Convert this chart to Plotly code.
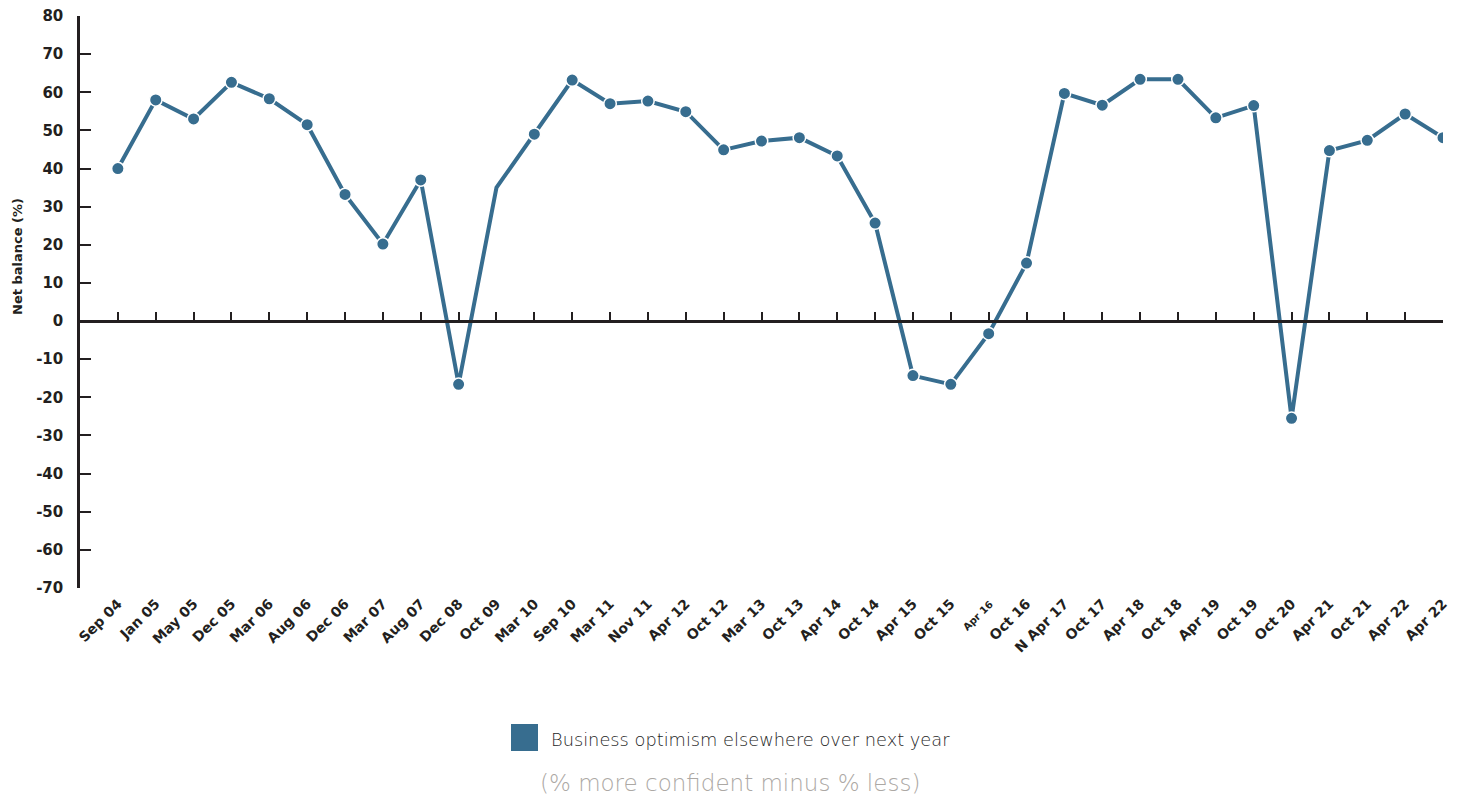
import plotly.graph_objects as go

categories = ["Sep 04", "Jan 05", "May 05", "Dec 05", "Mar 06", "Aug 06", "Dec 06", "Mar 07",
              "Aug 07", "Dec 08", "Oct 09", "Mar 10", "Sep 10", "Mar 11", "Nov 11", "Apr 12",
              "Oct 12", "Mar 13", "Oct 13", "Apr 14", "Oct 14", "Apr 15", "Oct 15", "Apr 16",
              "Oct 16", "N Apr 17", "Oct 17", "Apr 18", "Oct 18", "Apr 19", "Oct 19", "Oct 20",
              "Apr 21", "Oct 21", "Apr 22", "Apr 22"]
values = [40, 58, 53, 62.6, 58.3, 51.5, 33.2, 20.2,
          37, -16.6, 35, 49, 63.2, 57, 57.7, 54.9,
          44.9, 47.2, 48.1, 43.3, 25.7, -14.3, -16.6, -3.3,
          15.2, 59.7, 56.6, 63.4, 63.4, 53.3, 56.5, -25.5,
          44.7, 47.4, 54.3, 48.1]
no_marker = ["Oct 09"]
y_ticks = list(range(-70, 81, 10))
y_ticktext = [str(v) for v in y_ticks]

x = list(range(len(categories)))
LINE_C = "#376d8f"
DARK = "#231f20"
TICK_FONT = "DejaVu Sans"
TEXT_FONT = "DejaVu Sans"

sizes = [0 if c in no_marker else 12.5 for c in categories]
ticktext = [f"<span style='font-size:10px'>{c}</span>" if c == "Apr 16" else c for c in categories]

fig = go.Figure()
fig.add_trace(go.Scatter(
    x=x, y=values, mode="lines+markers",
    line=dict(color=LINE_C, width=4),
    marker=dict(size=sizes, color=LINE_C, opacity=1, line=dict(color="white", width=1.5)),
    showlegend=False, xaxis="x", yaxis="y",
))
# invisible trace to activate the zero-line axis
fig.add_trace(go.Scatter(x=[x[0]], y=[values[0]], xaxis="x2", yaxis="y", mode="markers",
                         marker=dict(opacity=0), showlegend=False, hoverinfo="skip"))

fig.update_layout(
    width=1459, height=799,
    margin=dict(l=80, r=16, t=16, b=211, autoexpand=False),
    plot_bgcolor="white", paper_bgcolor="white",
    font=dict(family=TICK_FONT, color=DARK),
    xaxis=dict(
        range=[-1, 35], tickmode="array", tickvals=x, ticktext=ticktext,
        tickangle=-45, showline=False, showgrid=False, zeroline=False, ticks="",
        tickfont=dict(family=TICK_FONT, size=14, color=DARK, weight=700),
        ticklabelstandoff=4, automargin=False,
    ),
    xaxis2=dict(
        overlaying="x", matches="x", anchor="free", position=70 / 150, side="bottom",
        tickmode="array", tickvals=x, showticklabels=False,
        showline=True, linecolor=DARK, linewidth=2.5,
        ticks="inside", ticklen=8, tickwidth=2, tickcolor=DARK,
        showgrid=False, zeroline=False, automargin=False,
    ),
    yaxis=dict(
        range=[-70, 80], tickmode="array", tickvals=y_ticks, ticktext=y_ticktext,
        showline=True, linecolor=DARK, linewidth=2.5,
        ticks="inside", ticklen=11, tickwidth=2, tickcolor=DARK,
        showgrid=False, zeroline=False,
        tickfont=dict(family=TICK_FONT, size=15, color=DARK, weight=700),
        ticklabelstandoff=11, automargin=False,
    ),
    showlegend=False,
)

fig.add_annotation(
    text="Net balance (%)", textangle=-90, xref="paper", yref="paper",
    x=(17 - 80) / 1363, y=(588 - 257) / 572, xanchor="center", yanchor="middle",
    showarrow=False,
    font=dict(family=TICK_FONT, size=13, color=DARK, weight=700),
)
# legend
fig.add_shape(type="rect", xref="paper", yref="paper",
              x0=(511 - 80) / 1363, x1=(538 - 80) / 1363,
              y0=(588 - 751) / 572, y1=(588 - 724) / 572,
              fillcolor=LINE_C, line=dict(width=0))
fig.add_annotation(
    text="Business optimism elsewhere over next year", xref="paper", yref="paper",
    x=(549 - 80) / 1363, y=(588 - 739) / 572, xanchor="left", yanchor="middle", showarrow=False,
    font=dict(family=TEXT_FONT, size=17.8, color="#262626", weight=200),
)
fig.add_annotation(
    text="(% more confident minus % less)", xref="paper", yref="paper",
    x=(730 - 80) / 1363, y=(588 - 783) / 572, xanchor="center", yanchor="middle", showarrow=False,
    font=dict(family=TEXT_FONT, size=23, color="#aca8a4", weight=200),
)

fig.write_html("out.html")
